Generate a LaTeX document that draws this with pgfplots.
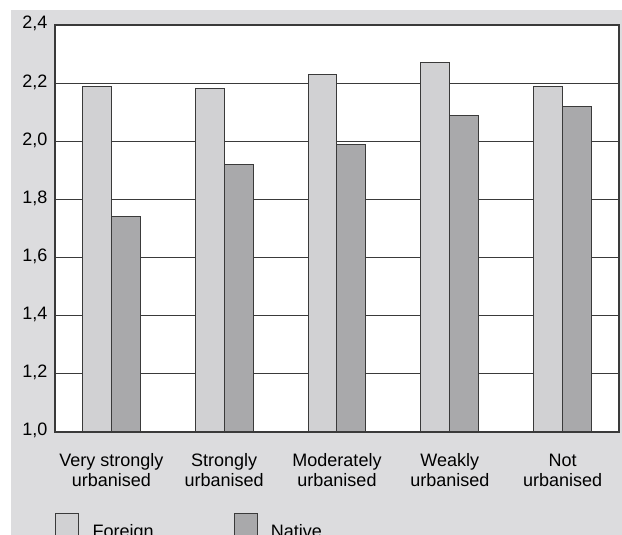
\documentclass[border=0pt]{standalone}
\usepackage{fontspec}
\setmainfont{Liberation Sans}
\usepackage{pgfplots}
\pgfplotsset{compat=1.18}
\definecolor{bg}{HTML}{DCDCDE}
\definecolor{foreign}{HTML}{D1D1D3}
\definecolor{native}{HTML}{A9A9AB}
\definecolor{frame}{HTML}{3A3A3A}

\begin{document}
\begin{tikzpicture}[x=0.75pt,y=0.75pt]
\clip (0,0) rectangle (622,535);
\fill[bg] (11,0) rectangle (622,525);
\begin{axis}[
  at={(41.25pt,77.25pt)}, anchor=south west,
  scale only axis, width=423pt, height=305.25pt,
  axis background/.style={fill=white},
  xmin=-0.5, xmax=4.5, ymin=1, ymax=2.4,
  xtick={0,1,2,3,4},
  xticklabels={{Very strongly\\urbanised},{Strongly\\urbanised},{Moderately\\urbanised},{Weakly\\urbanised},{Not\\urbanised}},
  ytick={1,1.2,1.4,1.6,1.8,2,2.2,2.4},
  /pgf/number format/.cd, use comma, fixed, fixed zerofill, precision=1, assume math mode=true, /pgfplots/.cd,
  major tick length=0pt,
  ymajorgrids, major grid style={frame, line width=0.75pt},
  axis line style={frame, line width=0.9pt},
  tick label style={font=\fontsize{13.5}{15}\selectfont},
  typeset ticklabels with strut,
  xticklabel style={align=center, inner sep=0pt, yshift=-15pt},
  yticklabel style={inner sep=0pt, xshift=-5.5pt},
  ybar=0pt, bar width=0.257,
  legend columns=2,
  legend image code/.code={\draw[#1, line width=0.75pt] (0pt,-8pt) rectangle (17.25pt,14pt);},
  legend style={at={(0,-0.199)}, anchor=north west, draw=none, fill=none, inner sep=0pt,
    font=\fontsize{13.5}{15}\selectfont,
    /tikz/every odd column/.append style={column sep=8pt},
    /tikz/every even column/.append style={column sep=58pt}},
]
\addplot[fill=foreign, draw=frame, line width=0.75pt] coordinates {(0,2.19) (1,2.18) (2,2.23) (3,2.27) (4,2.19)};
\addplot[fill=native, draw=frame, line width=0.75pt] coordinates {(0,1.74) (1,1.92) (2,1.99) (3,2.09) (4,2.12)};
\legend{Foreign, Native}
\end{axis}
\end{tikzpicture}
\end{document}
